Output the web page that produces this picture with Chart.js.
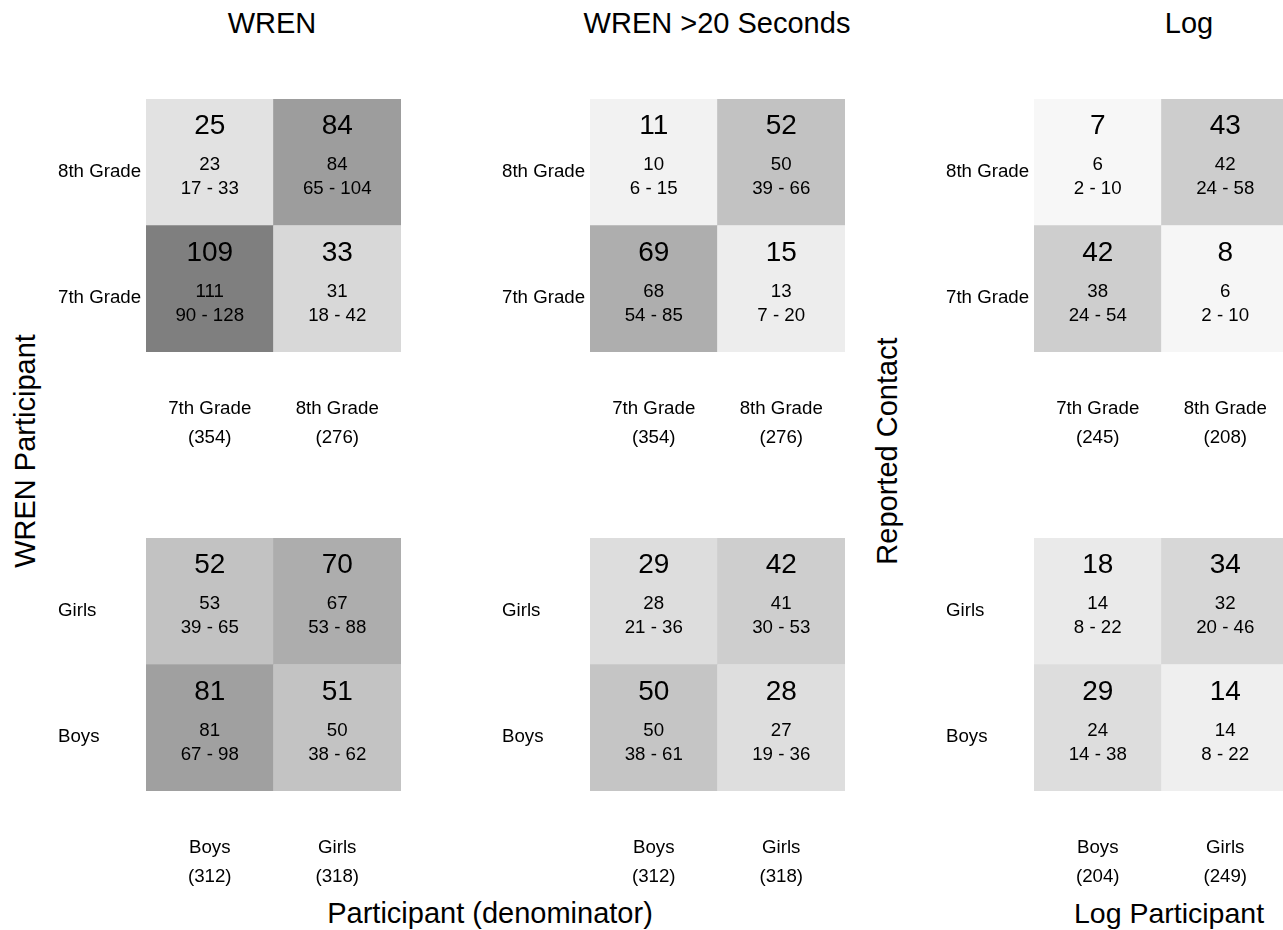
<!DOCTYPE html>
<html>
<head>
<meta charset="utf-8">
<title>Contact matrices</title>
<script src="https://cdn.jsdelivr.net/npm/chart.js@4.4.0/dist/chart.umd.min.js"></script>
<style>
  html, body { margin: 0; padding: 0; background: #fff; overflow: hidden; width: 1283px; height: 930px; }
  body { position: relative; font-family: "Liberation Sans", Arial, sans-serif; color: #000; }
  canvas.panel { position: absolute; }
  .lbl { position: absolute; font-size: 29px; line-height: 1; white-space: nowrap; transform: translate(-50%, -50%); }
  .vlbl { position: absolute; font-size: 29px; line-height: 1; white-space: nowrap; transform: translate(-50%, -50%) rotate(-90deg); }
</style>
</head>
<body>
<div class="lbl" style="left:272px; top:23px;">WREN</div>
<div class="lbl" style="left:717px; top:23px;">WREN &gt;20 Seconds</div>
<div class="lbl" style="left:1189px; top:23px;">Log</div>
<div class="vlbl" style="left:25px; top:451px;">WREN Participant</div>
<div class="vlbl" style="left:887px; top:451px;">Reported Contact</div>
<div class="lbl" style="left:490px; top:913px;">Participant (denominator)</div>
<div class="lbl" style="left:1169px; top:913px; font-size:28.5px;">Log Participant</div>

<canvas class="panel" id="p-wren-grade" width="343" height="353" style="left:58px; top:99px;"></canvas>
<canvas class="panel" id="p-wren20-grade" width="343" height="353" style="left:502px; top:99px;"></canvas>
<canvas class="panel" id="p-log-grade" width="343" height="353" style="left:946px; top:99px;"></canvas>
<canvas class="panel" id="p-wren-sex" width="343" height="353" style="left:58px; top:538px;"></canvas>
<canvas class="panel" id="p-wren20-sex" width="343" height="353" style="left:502px; top:538px;"></canvas>
<canvas class="panel" id="p-log-sex" width="343" height="353" style="left:946px; top:538px;"></canvas>

<script>
// Category names (rows are listed bottom row first, columns left to right)
const gradeLabels = ['7th Grade', '8th Grade'];
const sexLabels = ['Boys', 'Girls'];

// WREN, by grade
const wrenGradeObserved = [[109, 33], [25, 84]];
const wrenGradeEstimate = [[111, 31], [23, 84]];
const wrenGradeLower    = [[90, 18], [17, 65]];
const wrenGradeUpper    = [[128, 42], [33, 104]];
const wrenGradeTotals   = [354, 276];

// WREN, by sex
const wrenSexObserved = [[81, 51], [52, 70]];
const wrenSexEstimate = [[81, 50], [53, 67]];
const wrenSexLower    = [[67, 38], [39, 53]];
const wrenSexUpper    = [[98, 62], [65, 88]];
const wrenSexTotals   = [312, 318];

// WREN contacts longer than 20 seconds, by grade
const wren20GradeObserved = [[69, 15], [11, 52]];
const wren20GradeEstimate = [[68, 13], [10, 50]];
const wren20GradeLower    = [[54, 7], [6, 39]];
const wren20GradeUpper    = [[85, 20], [15, 66]];
const wren20GradeTotals   = [354, 276];

// WREN contacts longer than 20 seconds, by sex
const wren20SexObserved = [[50, 28], [29, 42]];
const wren20SexEstimate = [[50, 27], [28, 41]];
const wren20SexLower    = [[38, 19], [21, 30]];
const wren20SexUpper    = [[61, 36], [36, 53]];
const wren20SexTotals   = [312, 318];

// Contact log, by grade
const logGradeObserved = [[42, 8], [7, 43]];
const logGradeEstimate = [[38, 6], [6, 42]];
const logGradeLower    = [[24, 2], [2, 24]];
const logGradeUpper    = [[54, 10], [10, 58]];
const logGradeTotals   = [245, 208];

// Contact log, by sex
const logSexObserved = [[29, 14], [18, 34]];
const logSexEstimate = [[24, 14], [14, 32]];
const logSexLower    = [[14, 8], [8, 20]];
const logSexUpper    = [[38, 22], [22, 46]];
const logSexTotals   = [204, 249];

const FONT = '"Liberation Sans", Arial, sans-serif';

function shade(v) {
  const g = Math.round(255 - 1.17 * v);
  return `rgb(${g},${g},${g})`;
}

// Writes the observed count, estimate and interval into each cell
const cellText = {
  id: 'cellText',
  afterDatasetsDraw(chart) {
    const ctx = chart.ctx;
    chart.data.datasets.forEach((ds, di) => {
      chart.getDatasetMeta(di).data.forEach((bar, i) => {
        const cx = bar.x;
        const cy = (bar.y + bar.base) / 2;
        ctx.save();
        ctx.fillStyle = '#000';
        ctx.textAlign = 'center';
        ctx.textBaseline = 'middle';
        ctx.font = '28px ' + FONT;
        ctx.fillText(String(ds.observed[i]), cx, cy - 35.5);
        ctx.font = '18.7px ' + FONT;
        ctx.fillText(String(ds.estimate[i]), cx, cy + 2.7);
        ctx.fillText(ds.lower[i] + ' - ' + ds.upper[i], cx, cy + 26.8);
        ctx.restore();
      });
    });
  }
};

function makePanel(id, labels, observed, estimate, lower, upper, totals) {
  const datasets = [0, 1].map(r => ({
    data: [0, 1].map(() => [r, r + 1]),
    backgroundColor: observed[r].map(shade),
    borderWidth: 0,
    grouped: false,
    barPercentage: 1,
    categoryPercentage: 1,
    observed: observed[r],
    estimate: estimate[r],
    lower: lower[r],
    upper: upper[r]
  }));

  new Chart(document.getElementById(id), {
    type: 'bar',
    data: {
      labels: labels.map((l, i) => [l, '(' + totals[i] + ')']),
      datasets
    },
    options: {
      responsive: false,
      animation: false,
      layout: { padding: 0, autoPadding: false },
      plugins: { legend: { display: false }, tooltip: { enabled: false } },
      scales: {
        x: {
          type: 'category',
          offset: true,
          grid: { display: false, drawTicks: false },
          border: { display: false },
          ticks: {
            font: { family: FONT, size: 18.7, lineHeight: 1.55 },
            color: '#000',
            padding: 42,
            maxRotation: 0,
            autoSkip: false
          },
          afterFit(s) { s.height = 100; s.paddingLeft = 0; s.paddingRight = 0; }
        },
        y: {
          type: 'linear',
          min: 0,
          max: 2,
          grid: { display: false, drawTicks: false },
          border: { display: false },
          afterBuildTicks(s) { s.ticks = [{ value: 0.5 }, { value: 1.5 }]; },
          ticks: {
            callback: v => (v < 1 ? labels[0] : labels[1]),
            crossAlign: 'far',
            labelOffset: 9.5,
            padding: 0,
            font: { family: FONT, size: 18.7 },
            color: '#000'
          },
          afterFit(s) { s.width = 88; s.paddingTop = 0; s.paddingBottom = 0; }
        }
      }
    },
    plugins: [cellText]
  });
}

makePanel('p-wren-grade', gradeLabels, wrenGradeObserved, wrenGradeEstimate, wrenGradeLower, wrenGradeUpper, wrenGradeTotals);
makePanel('p-wren20-grade', gradeLabels, wren20GradeObserved, wren20GradeEstimate, wren20GradeLower, wren20GradeUpper, wren20GradeTotals);
makePanel('p-log-grade', gradeLabels, logGradeObserved, logGradeEstimate, logGradeLower, logGradeUpper, logGradeTotals);
makePanel('p-wren-sex', sexLabels, wrenSexObserved, wrenSexEstimate, wrenSexLower, wrenSexUpper, wrenSexTotals);
makePanel('p-wren20-sex', sexLabels, wren20SexObserved, wren20SexEstimate, wren20SexLower, wren20SexUpper, wren20SexTotals);
makePanel('p-log-sex', sexLabels, logSexObserved, logSexEstimate, logSexLower, logSexUpper, logSexTotals);
</script>
</body>
</html>
